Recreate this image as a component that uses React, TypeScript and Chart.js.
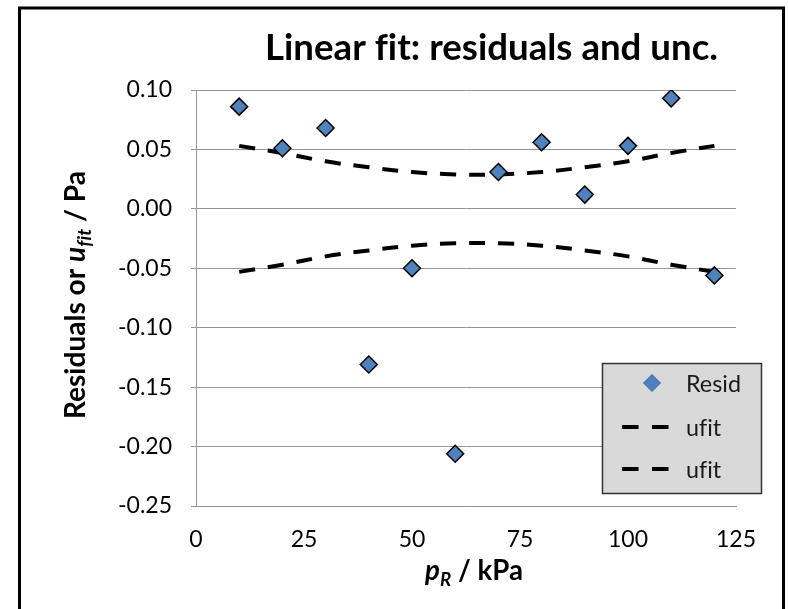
import { useEffect, useRef } from "react";
import { Chart, registerables } from "chart.js";

Chart.register(...registerables);

// ---- data ----
const pressureKPa = [10, 20, 30, 40, 50, 60, 70, 80, 90, 100, 110, 120];
const residuals = [0.086, 0.051, 0.068, -0.131, -0.050, -0.206, 0.031, 0.056, 0.012, 0.053, 0.093, -0.056];
const ufitUpper = [0.053, 0.047, 0.040, 0.035, 0.031, 0.029, 0.029, 0.031, 0.035, 0.040, 0.047, 0.053];
const ufitLower = [-0.053, -0.047, -0.040, -0.035, -0.031, -0.029, -0.029, -0.031, -0.035, -0.040, -0.047, -0.053];
const xTickValues = [0, 25, 50, 75, 100, 125];
const yTickValues = [0.10, 0.05, 0.00, -0.05, -0.10, -0.15, -0.20, -0.25];
const seriesNames = ["Resid", "ufit", "ufit"];
const chartTitle = "Linear fit: residuals and unc.";

const FONT = "Lato, 'Open Sans', sans-serif";
const BLUE = "#4f81bd";
const GRID = "#969696";

type Seg = { t: string; it?: boolean; sub?: boolean };

function segFont(size: number, s: Seg, weight: string) {
  const sz = s.sub ? size * 0.68 : size;
  return `${s.it ? "italic " : ""}${weight} ${sz}px ${FONT}`;
}
function measureSegs(ctx: CanvasRenderingContext2D, segs: Seg[], size: number, weight: string) {
  let w = 0;
  for (const s of segs) {
    ctx.font = segFont(size, s, weight);
    w += ctx.measureText(s.t).width;
  }
  return w;
}
function fitSize(ctx: CanvasRenderingContext2D, segs: Seg[], weight: string, target: number) {
  return (100 * target) / measureSegs(ctx, segs, 100, weight);
}
function drawSegs(ctx: CanvasRenderingContext2D, segs: Seg[], x: number, y: number, size: number, weight: string) {
  let cx = x;
  for (const s of segs) {
    ctx.font = segFont(size, s, weight);
    ctx.fillText(s.t, cx, y + (s.sub ? size * 0.22 : 0));
    cx += ctx.measureText(s.t).width;
  }
}

const decorations = {
  id: "decorations",
  afterDraw(chart: any) {
    const ctx: any = chart.ctx;
    ctx.save();
    // a tiny letter spacing keeps "fi" from being joined into a ligature
    ctx.letterSpacing = "0.01px";
    ctx.textBaseline = "alphabetic";
    ctx.textAlign = "left";
    ctx.fillStyle = "#000";

    // chart title
    const tSegs: Seg[] = [{ t: chartTitle }];
    const tSize = fitSize(ctx, tSegs, "bold", 453);
    drawSegs(ctx, tSegs, 265, 60, tSize, "bold");

    // y-axis title (rotated)
    const ySegs: Seg[] = [{ t: "Residuals or " }, { t: "u", it: true }, { t: "fit", it: true, sub: true }, { t: " / Pa" }];
    const ySize = fitSize(ctx, ySegs, "bold", 248);
    const yW = measureSegs(ctx, ySegs, ySize, "bold");
    ctx.save();
    ctx.translate(85, 295);
    ctx.rotate(-Math.PI / 2);
    drawSegs(ctx, ySegs, -yW / 2, 0, ySize, "bold");
    ctx.restore();

    // x-axis title
    const xSegs: Seg[] = [{ t: "p", it: true }, { t: "R", it: true, sub: true }, { t: " / kPa" }];
    const xSize = fitSize(ctx, xSegs, "bold", 98);
    drawSegs(ctx, xSegs, 425, 580, xSize, "bold");

    // legend box
    const lx = 602, ly = 363, lw = 159, lh = 130;
    ctx.fillStyle = "#d9d9d9";
    ctx.fillRect(lx, ly, lw, lh);
    ctx.strokeStyle = "#333";
    ctx.lineWidth = 1.5;
    ctx.strokeRect(lx + 0.5, ly + 0.5, lw, lh);

    const rows = [383, 427, 469];
    const legSize = fitSize(ctx, [{ t: seriesNames[0] }], "normal", 55);
    ctx.textBaseline = "middle";
    rows.forEach((ry, i) => {
      if (i === 0) {
        ctx.beginPath();
        ctx.moveTo(652 - 8.5, ry);
        ctx.lineTo(652, ry - 8.5);
        ctx.lineTo(652 + 8.5, ry);
        ctx.lineTo(652, ry + 8.5);
        ctx.closePath();
        ctx.fillStyle = BLUE;
        ctx.fill();
        ctx.strokeStyle = "#3c6aa6";
        ctx.lineWidth = 1;
        ctx.stroke();
      } else {
        ctx.beginPath();
        ctx.strokeStyle = "#000";
        ctx.lineWidth = 4;
        ctx.setLineDash([16.5, 13.5]);
        ctx.moveTo(622, ry);
        ctx.lineTo(669, ry);
        ctx.stroke();
        ctx.setLineDash([]);
      }
      ctx.fillStyle = "#1a1a1a";
      ctx.font = `normal ${legSize}px ${FONT}`;
      ctx.fillText(seriesNames[i], 686, ry + 1);
    });

    // outer frame
    ctx.strokeStyle = "#000";
    ctx.lineWidth = 3;
    ctx.strokeRect(19.5, 8, 764, 700);
    ctx.restore();
  },
};

export default function App() {
  const ref = useRef<HTMLCanvasElement | null>(null);

  useEffect(() => {
    if (!ref.current) return;
    const chart = new Chart(ref.current, {
      type: "scatter",
      data: {
        datasets: [
          {
            label: seriesNames[0],
            data: pressureKPa.map((x, i) => ({ x, y: residuals[i] })),
            showLine: false,
            pointStyle: "rectRot",
            pointRadius: 8.5,
            pointHoverRadius: 8.5,
            pointBackgroundColor: BLUE,
            pointBorderColor: "#000",
            pointBorderWidth: 1.5,
            order: 0,
          },
          {
            label: seriesNames[1],
            data: pressureKPa.map((x, i) => ({ x, y: ufitUpper[i] })),
            showLine: true,
            borderColor: "#000",
            borderWidth: 4,
            borderDash: [16, 13],
            pointRadius: 0,
            tension: 0.4,
            fill: false,
            order: 1,
          },
          {
            label: seriesNames[2],
            data: pressureKPa.map((x, i) => ({ x, y: ufitLower[i] })),
            showLine: true,
            borderColor: "#000",
            borderWidth: 4,
            borderDash: [16, 13],
            pointRadius: 0,
            tension: 0.4,
            fill: false,
            order: 2,
          },
        ],
      },
      options: {
        responsive: false,
        animation: false,
        devicePixelRatio: 1,
        layout: { padding: { top: 90, right: 52, left: 0, bottom: 0 } },
        plugins: {
          legend: { display: false },
          title: { display: false },
          tooltip: { enabled: false },
        },
        scales: {
          x: {
            type: "linear",
            min: 0,
            max: 125,
            afterBuildTicks: (s: any) => {
              s.ticks = xTickValues.map((v) => ({ value: v }));
            },
            afterFit: (s: any) => {
              s.height = 103;
            },
            grid: { display: false, drawTicks: false },
            border: { display: true, color: GRID, width: 1 },
            ticks: {
              color: "#000",
              font: { family: FONT, size: 23 },
              padding: 20,
              maxRotation: 0,
              autoSkip: false,
            },
          },
          y: {
            type: "linear",
            min: -0.25,
            max: 0.1,
            afterBuildTicks: (s: any) => {
              s.ticks = yTickValues.map((v) => ({ value: v }));
            },
            afterFit: (s: any) => {
              s.width = 196;
            },
            grid: { color: GRID, lineWidth: 1, tickLength: 5, drawTicks: true },
            border: { display: true, color: GRID, width: 1 },
            ticks: {
              color: "#000",
              font: { family: FONT, size: 23 },
              padding: 19,
              autoSkip: false,
              callback: (v: any) => Number(v).toFixed(2),
            },
          },
        },
      },
      plugins: [decorations],
    } as any);
    return () => chart.destroy();
  }, []);

  return (
    <div style={{ position: "fixed", left: 0, top: 0, width: 788, height: 609, background: "#fff" }}>
      <canvas ref={ref} width={788} height={609} style={{ display: "block" }} />
    </div>
  );
}
